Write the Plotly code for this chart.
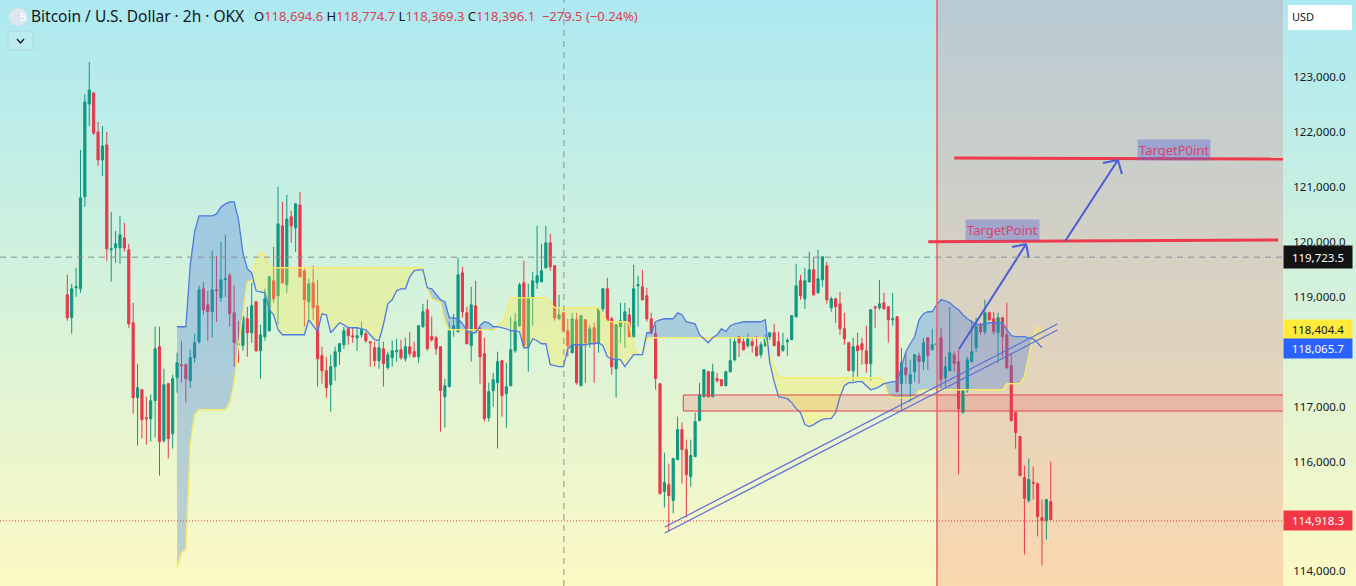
import plotly.graph_objects as go

opens = [119014,118595,119141,119123,120798,122490,122690,121981,121471,121744,
119833,119869,119869,120051,119833,118504,117139,117285,116775,116757,
117085,118068,116357,117394,116484,117503,117740,117740,117449,117867,
118159,119123,118832,118705,119105,118959,119287,119360,118686,118122,
118086,118577,118322,118887,117995,118250,118359,119269,118996,120270,
119196,120434,120233,120652,119451,118887,119232,118814,117904,117631,
117376,117704,117977,118104,118395,118268,118231,118286,118304,118159,
118049,117813,118031,117685,117867,117977,118013,117849,118068,117977,
117885,118432,118741,118250,118231,118068,117158,117340,118377,118340,
119414,118686,118086,118814,118395,117940,116775,117267,117412,117813,
117212,117358,117995,118450,119232,118068,118959,119232,119251,119505,
119960,119542,118577,118686,118359,117958,118559,117358,118559,118140,
118413,118140,118759,119123,118577,117667,118432,118541,118650,118250,
119178,119160,118996,118577,118304,117394,115429,115556,115265,116011,
116557,116193,115702,116066,116721,117158,117613,117158,117485,117467,
117358,117613,117831,118250,118159,118086,118159,118068,117922,118086,
118250,118322,118159,117995,118159,118195,118614,119269,118941,119251,
119469,119050,119287,119542,118778,118941,118850,118395,118140,117631,
118086,118122,117995,117758,118796,118778,118868,118796,118559,118614,
117394,117685,117394,117613,117904,117795,118231,118013,118123,118231,
117503,117631,117922,117795,116867,117267,117795,118049,118468,118340,
118686,118577,118322,118595,118286,117722,116867,116430,115683,115265,
115597,115574,114956,114901,115247]

highs = [119378,119214,119505,121653,122672,123255,122709,122163,122090,121981,
120525,120179,120452,120325,119942,118868,117758,117300,117158,117194,
118432,118432,117667,117410,117558,117958,118177,117760,118013,118304,
119178,119251,119087,119815,119724,119979,120106,119414,119196,118541,
118668,118796,119232,118905,118468,119123,119360,119888,120980,120707,
120834,120543,120688,120889,119524,119305,119542,119287,118068,117885,
117922,118068,118140,118432,118432,118413,118413,118523,118340,118165,
118159,118159,118159,117977,118177,118213,118195,118231,118340,118159,
118460,118850,118923,118614,118268,118080,117485,118523,118668,119687,
119524,118796,119160,119269,118432,118231,117412,117594,117977,117831,
117776,118614,118686,119232,119633,119214,119433,120270,119942,120270,
120124,119555,119014,118700,118577,118686,118686,118645,118575,118468,
118504,118770,119141,119323,118614,118480,118868,118868,118778,119560,
119360,119469,119141,118686,118468,117405,116138,115938,116040,116794,
116684,116375,116375,116867,117412,117660,117630,117758,117594,117480,
117630,118231,118231,118262,118250,118304,118231,118268,118159,118286,
118335,118486,118340,118322,118231,118645,119578,119378,119505,119797,
119706,119833,119718,119614,118978,118955,119069,118686,118155,118231,
118322,118231,118450,118755,118814,119287,119050,118810,119050,118630,
118049,117958,117831,117935,117958,118231,118245,118395,118450,118413,
117885,118796,117977,118013,117303,117885,118559,118595,118504,118923,
118705,118705,118686,118610,118868,117958,116880,116445,115902,116029,
115884,115590,115283,115295,115975]

lows = [118541,118304,118978,119050,120616,122090,121926,121362,121180,119633,
119251,119596,119578,119797,118413,116848,116266,116393,116284,116339,
116411,115720,116320,116029,116211,117230,117412,117048,117321,117776,
118122,118650,118177,118231,118523,118887,118978,118432,117704,117776,
117995,117885,118140,117977,117485,118177,118340,118868,118468,119214,
119050,119960,119797,119330,118432,118559,118559,117340,117394,117139,
116885,117449,117740,118031,118104,118140,117995,118231,118140,117704,
117704,117667,117340,117649,117704,117795,117831,117795,117885,117870,
117776,118413,117995,118159,117922,116521,116593,117330,118250,118330,
118595,118110,117795,118340,117394,116703,116703,116976,116211,116794,
116593,117345,117958,118432,118075,117613,118450,119123,119240,119495,
119451,118541,118565,118345,117885,117945,117376,117345,117412,118049,
117412,117958,118705,118523,117558,117139,118140,118049,118240,118240,
118432,118910,118523,118286,117285,115375,115137,114701,115028,116000,
115574,114955,115520,116055,116710,117145,117140,117145,117412,117345,
117345,117594,117795,117885,118000,118049,117958,117890,117867,118068,
118195,118075,117885,117985,117904,118190,118600,118923,118759,119240,
119000,119040,119160,118850,118705,118504,118286,118104,117620,117431,
117522,117740,117594,117449,118413,118741,118745,118140,118450,117230,
116921,117394,117067,117431,117394,117649,117649,118000,117940,117321,
117340,117620,117613,115738,116855,117230,117785,117977,118286,118286,
118541,118286,117776,117885,117670,116703,116211,115705,114282,115229,
115283,114610,114082,114555,114905]

closes = [118595,119123,119160,120780,122527,122745,121962,121471,121726,119851,
119851,119942,120106,119869,118486,117139,117321,116739,116757,117085,
118031,116339,117376,116393,117485,117776,117722,117485,117867,118140,
119105,118741,118705,119105,119087,119287,119305,118668,118140,118104,
118614,118322,118814,117995,118286,118941,119342,118941,120306,119232,
120397,120270,120670,119342,118923,119214,118778,117849,117631,117321,
117704,117977,118122,118359,118268,118250,118268,118377,118177,118140,
117813,118049,117758,117922,117995,117995,117867,118068,117940,117885,
118450,118705,118031,118195,118031,117267,117358,118359,118450,119378,
118705,118122,118832,118359,117885,116757,117249,117467,117795,117176,
117340,118013,118523,119196,118086,118959,119269,119360,119451,119960,
119524,118595,118650,118359,118086,118577,117412,118632,118140,118395,
118140,118759,119123,118541,117704,118468,118541,118705,118250,119123,
119196,118923,118577,118322,117485,115392,115592,115356,116029,116557,
116193,115738,116084,116703,117194,117649,117158,117613,117449,117358,
117613,117813,118159,118140,118013,118231,118086,117904,118104,118231,
118322,118086,117904,118086,118177,118632,119178,118996,119269,119469,
119014,119305,119706,118923,118941,118796,118395,118213,117631,118068,
117995,118013,117758,118741,118778,118850,118759,118559,118577,117249,
117776,117558,117558,117922,117795,118140,117904,118104,118105,117467,
117704,117958,117758,116939,117267,117831,117977,118432,118340,118686,
118559,118340,118595,118250,117685,116721,116503,115720,115301,115647,
115580,114974,114901,115283,114918.3]

cloud_start_bar = 25
cloud_a = [118432,118432,118432,119560,120161,120452,120452,120452,120452,120488,
120616,120670,120707,120707,120379,119779,119487,119414,119087,119069,
119050,118741,118650,118377,118286,118286,118286,118286,118286,118286,
118559,118450,118341,118668,118650,118322,118413,118504,118468,118413,
118413,118413,118395,118377,118286,118195,118177,118468,118850,118923,
119087,119123,119123,119342,119451,119469,119469,119141,119123,119014,
118923,118887,118595,118595,118577,118486,118359,118322,118322,118450,
118523,118504,118432,118432,118413,118395,118359,118359,118341,118049,
118049,118213,118177,118122,118122,117740,117722,117704,117704,118031,
118104,118104,118104,118104,118122,118122,118140,118086,117885,117849,
117831,117831,117704,117813,117922,117922,117922,118322,118322,118523,
118559,118577,118577,118577,118686,118650,118523,118504,118486,118286,
118213,118140,118231,118286,118395,118341,118450,118486,118504,118523,
118523,118523,118523,118523,118559,117776,117431,117158,117139,117121,
117048,116939,116866,116648,116612,116648,116703,116739,116757,116757,
116866,117158,117358,117412,117412,117431,117431,117358,117285,117303,
117340,117394,117412,117431,117431,117704,117977,118122,118250,118559,
118668,118705,118705,118832,118923,118905,118868,118796,118741,118650,
118577,118523,118486,118468,118486,118504,118504,118504,118504,118377,
118268,118250,118250,118250,118231,118213,118140,118049]

cloud_b = [114045,114318,114373,116284,116830,116921,116921,116921,116921,116921,
116921,116921,117048,117412,118104,118650,119251,119269,119651,119779,
119742,119505,119505,119505,119505,119505,119505,119505,119505,119505,
119505,119505,119505,119505,119505,119505,119505,119505,119505,119505,
119505,119505,119505,119505,119505,119505,119505,119505,119505,119505,
119505,119505,119505,119505,119505,119505,119505,119141,118941,118905,
118887,118523,118377,118377,118377,118377,118377,118377,118377,118377,
118377,118377,118359,118468,118504,118686,118959,118959,118959,118959,
118959,118959,118959,118959,118959,118868,118778,118778,118778,118778,
118778,118778,118778,118778,118778,118778,118778,118650,118523,118523,
118523,118523,118523,118504,118049,117922,117922,118231,118231,118231,
118231,118231,118231,118231,118231,118231,118231,118231,118231,118231,
118231,118231,118231,118231,118231,118231,118231,118231,118231,118231,
118231,118231,118231,118231,118231,117885,117685,117503,117503,117503,
117503,117503,117503,117503,117503,117503,117503,117503,117503,117503,
117503,117503,117503,117503,117503,117503,117503,117503,117503,117503,
117503,117431,117194,117139,117139,117139,117139,117139,117158,117267,
117285,117285,117285,117285,117285,117285,117285,117285,117285,117285,
117285,117285,117285,117285,117285,117285,117285,117285,117285,117394,
117394,117394,117394,117522,117922,118286,118413,118413]

axis_ticks = [114000,115000,116000,117000,118000,119000,120000,121000,122000,123000]
last_price = 114918.3
cursor_price = 119723.5
span_a_price = 118065.7
span_b_price = 118404.4
cursor_bar = 113.1
session_bar = 198.1
zone_bar = 140.3
zone_top = 117212
zone_bottom = 116920
trend_bars = [136.1, 225.5]
trend_upper = [114807, 118505]
trend_lower = [114698, 118396]
target1_bars = [196.1, 275.8]
target1_prices = [120005, 120036]
target2_bars = [202.0, 276.9]
target2_prices = [121530, 121512]
arrow1_bars = [203.1, 218.4, 215.2, 219.0]
arrow1_prices = [118050, 119963, 119908, 119708]
arrow2_bars = [227.3, 239.3, 235.9, 240.2]
arrow2_prices = [120018, 121494, 121439, 121238]
label1_pos = (212.9, 120218)
label2_pos = (252.1, 121676)
header = "Bitcoin / U.S. Dollar · 2h · OKX"
read_offset = 24  # calibration of the read prices against the price scale

bars = list(range(len(closes)))
assert len(opens) == len(highs) == len(lows) == len(closes) == 225
cloud_x = [cloud_start_bar + i for i in range(len(cloud_a))]
assert len(cloud_a) == len(cloud_b) == 198
def adj(vals): return [v + read_offset for v in vals]
span_a, span_b = adj(cloud_a), adj(cloud_b)
cloud_floor = [min(a, b) for a, b in zip(span_a, span_b)]

W, H = 1356, 586
PANEL = 1283
UP, DOWN = "#0f9880", "#e7394a"
BLUE, YELLOW = "#4f7bdc", "#f5e96e"
LINE = "#4a5cd6"

def fx(px): return px / W
def fy(py): return 1 - py / H

fig = go.Figure()
hidden = dict(mode="lines", line=dict(width=0), hoverinfo="skip", showlegend=False)
fig.add_trace(go.Scatter(x=cloud_x, y=cloud_floor, **hidden))
fig.add_trace(go.Scatter(x=cloud_x, y=span_a, fill="tonexty", fillcolor="rgba(70,125,225,0.33)", **hidden))
fig.add_trace(go.Scatter(x=cloud_x, y=cloud_floor, **hidden))
fig.add_trace(go.Scatter(x=cloud_x, y=span_b, fill="tonexty", fillcolor="rgba(255,235,59,0.30)", **hidden))
fig.add_trace(go.Scatter(x=cloud_x, y=span_b, mode="lines", line=dict(color=YELLOW, width=1.5), hoverinfo="skip", showlegend=False))
fig.add_trace(go.Scatter(x=cloud_x, y=span_a, mode="lines", line=dict(color=BLUE, width=1.3), hoverinfo="skip", showlegend=False))
fig.add_trace(go.Candlestick(
    x=bars, open=adj(opens), high=adj(highs), low=adj(lows), close=adj(closes),
    increasing=dict(line=dict(color=UP, width=1), fillcolor=UP),
    decreasing=dict(line=dict(color=DOWN, width=1), fillcolor=DOWN),
    whiskerwidth=0, showlegend=False, hoverinfo="skip"))

shapes = []
# page background gradient
stops = [(0, (173, 233, 241)), (290, (212, 242, 219)), (586, (253, 249, 195))]
for y in range(0, H, 2):
    (a, ca), (b, cb) = (stops[0], stops[1]) if y < 290 else (stops[1], stops[2])
    t = (y - a) / (b - a)
    c = [round(u + (v - u) * t) for u, v in zip(ca, cb)]
    shapes.append(dict(type="rect", xref="paper", yref="paper", x0=0, x1=1, y0=fy(y), y1=fy(y + 2),
                       fillcolor=f"rgb({c[0]},{c[1]},{c[2]})", line=dict(width=0), layer="below"))
shapes.append(dict(type="rect", xref="x", yref="paper", x0=session_bar, x1=276.9, y0=0, y1=1,
                   fillcolor="rgba(242,54,69,0.17)", line=dict(width=0), layer="below"))
shapes.append(dict(type="rect", x0=zone_bar, x1=276.9, y0=zone_bottom, y1=zone_top, xref="x", yref="y",
                   fillcolor="rgba(242,54,69,0.17)", line=dict(width=0), layer="below"))
for zp in (zone_top, zone_bottom):
    shapes.append(dict(type="line", xref="x", yref="y", x0=zone_bar, x1=276.9, y0=zp, y1=zp,
                       line=dict(color="#e0444f", width=1), layer="above"))
shapes.append(dict(type="line", xref="x", yref="y", x0=zone_bar, x1=zone_bar, y0=zone_bottom, y1=zone_top,
                   line=dict(color="#e0444f", width=1), layer="above"))
shapes.append(dict(type="line", xref="x", yref="paper", x0=session_bar, x1=session_bar, y0=0, y1=1,
                   line=dict(color="rgba(240,110,115,0.9)", width=2), layer="above"))
for yy in (trend_upper, trend_lower):
    shapes.append(dict(type="line", xref="x", yref="y", x0=trend_bars[0], x1=trend_bars[1], y0=yy[0], y1=yy[1],
                       line=dict(color="#5a6ed8", width=1.2), layer="above"))
for bx, by in ((target1_bars, target1_prices), (target2_bars, target2_prices)):
    shapes.append(dict(type="line", xref="x", yref="y", x0=bx[0], x1=bx[1], y0=by[0], y1=by[1],
                       line=dict(color="#ee3a4c", width=3), layer="above"))
for bx, by in ((arrow1_bars, arrow1_prices), (arrow2_bars, arrow2_prices)):
    for k in (0, 2, 3):
        shapes.append(dict(type="line", xref="x", yref="y", x0=bx[k], x1=bx[1], y0=by[k], y1=by[1],
                           line=dict(color=LINE, width=2), layer="above"))
shapes.append(dict(type="line", xref="x", yref="paper", x0=cursor_bar, x1=cursor_bar, y0=0, y1=1,
                   line=dict(color="#8a9096", width=1, dash="6px,5px"), layer="above"))
shapes.append(dict(type="line", xref="x", yref="y", x0=-15.33, x1=276.9, y0=cursor_price, y1=cursor_price,
                   line=dict(color="#8a9096", width=1, dash="6px,5px"), layer="above"))
shapes.append(dict(type="line", xref="x", yref="y", x0=-15.33, x1=276.9, y0=last_price, y1=last_price,
                   line=dict(color="#e7394a", width=1, dash="1px,2px"), layer="above"))
# header furniture
shapes.append(dict(type="circle", xref="paper", yref="paper", x0=fx(9), x1=fx(27), y0=fy(26), y1=fy(8),
                   fillcolor="rgba(225,230,235,0.9)", line=dict(width=0), layer="above"))
shapes.append(dict(type="rect", xref="paper", yref="paper", x0=fx(8), x1=fx(33), y0=fy(50), y1=fy(31),
                   fillcolor="rgba(255,255,255,0.12)", line=dict(color="rgba(150,190,200,0.35)", width=1), layer="above"))
shapes.append(dict(type="path", xref="paper", yref="paper",
                   path=f"M {fx(17)} {fy(39)} L {fx(20.5)} {fy(43)} L {fx(24)} {fy(39)}",
                   line=dict(color="#131722", width=1.3), layer="above"))
shapes.append(dict(type="rect", xref="paper", yref="paper", x0=fx(1288), x1=fx(1352), y0=fy(30), y1=fy(5),
                   fillcolor="#ffffff", line=dict(width=0), layer="above"))

FONT = "Noto Sans"
TICK = 11.5
def tag(price, text, bg, fg, h=17):
    return dict(xref="paper", yref="y", x=fx(1318), y=price, text=text, showarrow=False,
                font=dict(family=FONT, size=TICK, color=fg), bgcolor=bg, width=66, height=h,
                xanchor="center", yanchor="middle")

def money(v):
    return f"{v:,.1f}"

r = "#dc3f50"
ohlc = (f"O<span style='color:{r}'>118,694.6</span> H<span style='color:{r}'>118,774.7</span> "
        f"L<span style='color:{r}'>118,369.3</span> C<span style='color:{r}'>118,396.1</span> "
        f"<span style='color:{r}'> −279.5 (−0.24%)</span>")
annotations = [
    dict(xref="paper", yref="paper", x=fx(29), y=fy(16), text=header, showarrow=False, xanchor="left", yanchor="middle",
         font=dict(family=FONT, size=15.5, color="#131722")),
    dict(xref="paper", yref="paper", x=fx(252), y=fy(16), text=ohlc, showarrow=False, xanchor="left", yanchor="middle",
         font=dict(family=FONT, size=13, color="#131722")),
    dict(xref="paper", yref="paper", x=fx(18), y=fy(17), text="B", showarrow=False, yanchor="middle",
         font=dict(family=FONT, size=10, color="#ffffff")),
    dict(xref="paper", yref="paper", x=fx(1290), y=fy(17), text="USD", showarrow=False, xanchor="left", yanchor="middle",
         font=dict(family=FONT, size=11, color="#131722")),
    dict(x=label1_pos[0], y=label1_pos[1], text="TargetPoint", showarrow=False, bgcolor="rgba(95,105,215,0.42)",
         font=dict(family=FONT, size=13, color="#d8456a"), borderpad=1),
    dict(x=label2_pos[0], y=label2_pos[1], text="TargetP0int", showarrow=False, bgcolor="rgba(95,105,215,0.42)",
         font=dict(family=FONT, size=13, color="#d8456a"), borderpad=1),
    tag(cursor_price, money(cursor_price), "#131313", "#ffffff", 20),
    tag(span_b_price, money(span_b_price), "#ffeb3b", "#131722"),
    tag(span_a_price, money(span_a_price), "#2962ff", "#ffffff"),
    tag(last_price, money(last_price), "#f23645", "#ffffff"),
]

fig.update_layout(
    width=W, height=H, margin=dict(l=0, r=0, t=0, b=0), autosize=False,
    paper_bgcolor="#ffffff", plot_bgcolor="rgba(0,0,0,0)", showlegend=False,
    shapes=shapes, annotations=annotations, font=dict(family=FONT),
    xaxis=dict(domain=[0, PANEL / W], range=[-15.33, 276.9], visible=False, rangeslider=dict(visible=False)),
    yaxis=dict(domain=[0, 1], range=[113708 + read_offset, 124385 + read_offset], side="right", showgrid=False, zeroline=False,
               tickvals=axis_ticks, ticktext=[money(v) for v in axis_ticks], ticks="outside", ticklen=7,
               tickcolor="rgba(0,0,0,0)", showline=False, tickfont=dict(family=FONT, size=TICK, color="#131722")),
)
fig.write_html("out.html", config={"displayModeBar": False},
               post_script="document.body.style.margin='0';document.body.style.overflow='hidden';")
